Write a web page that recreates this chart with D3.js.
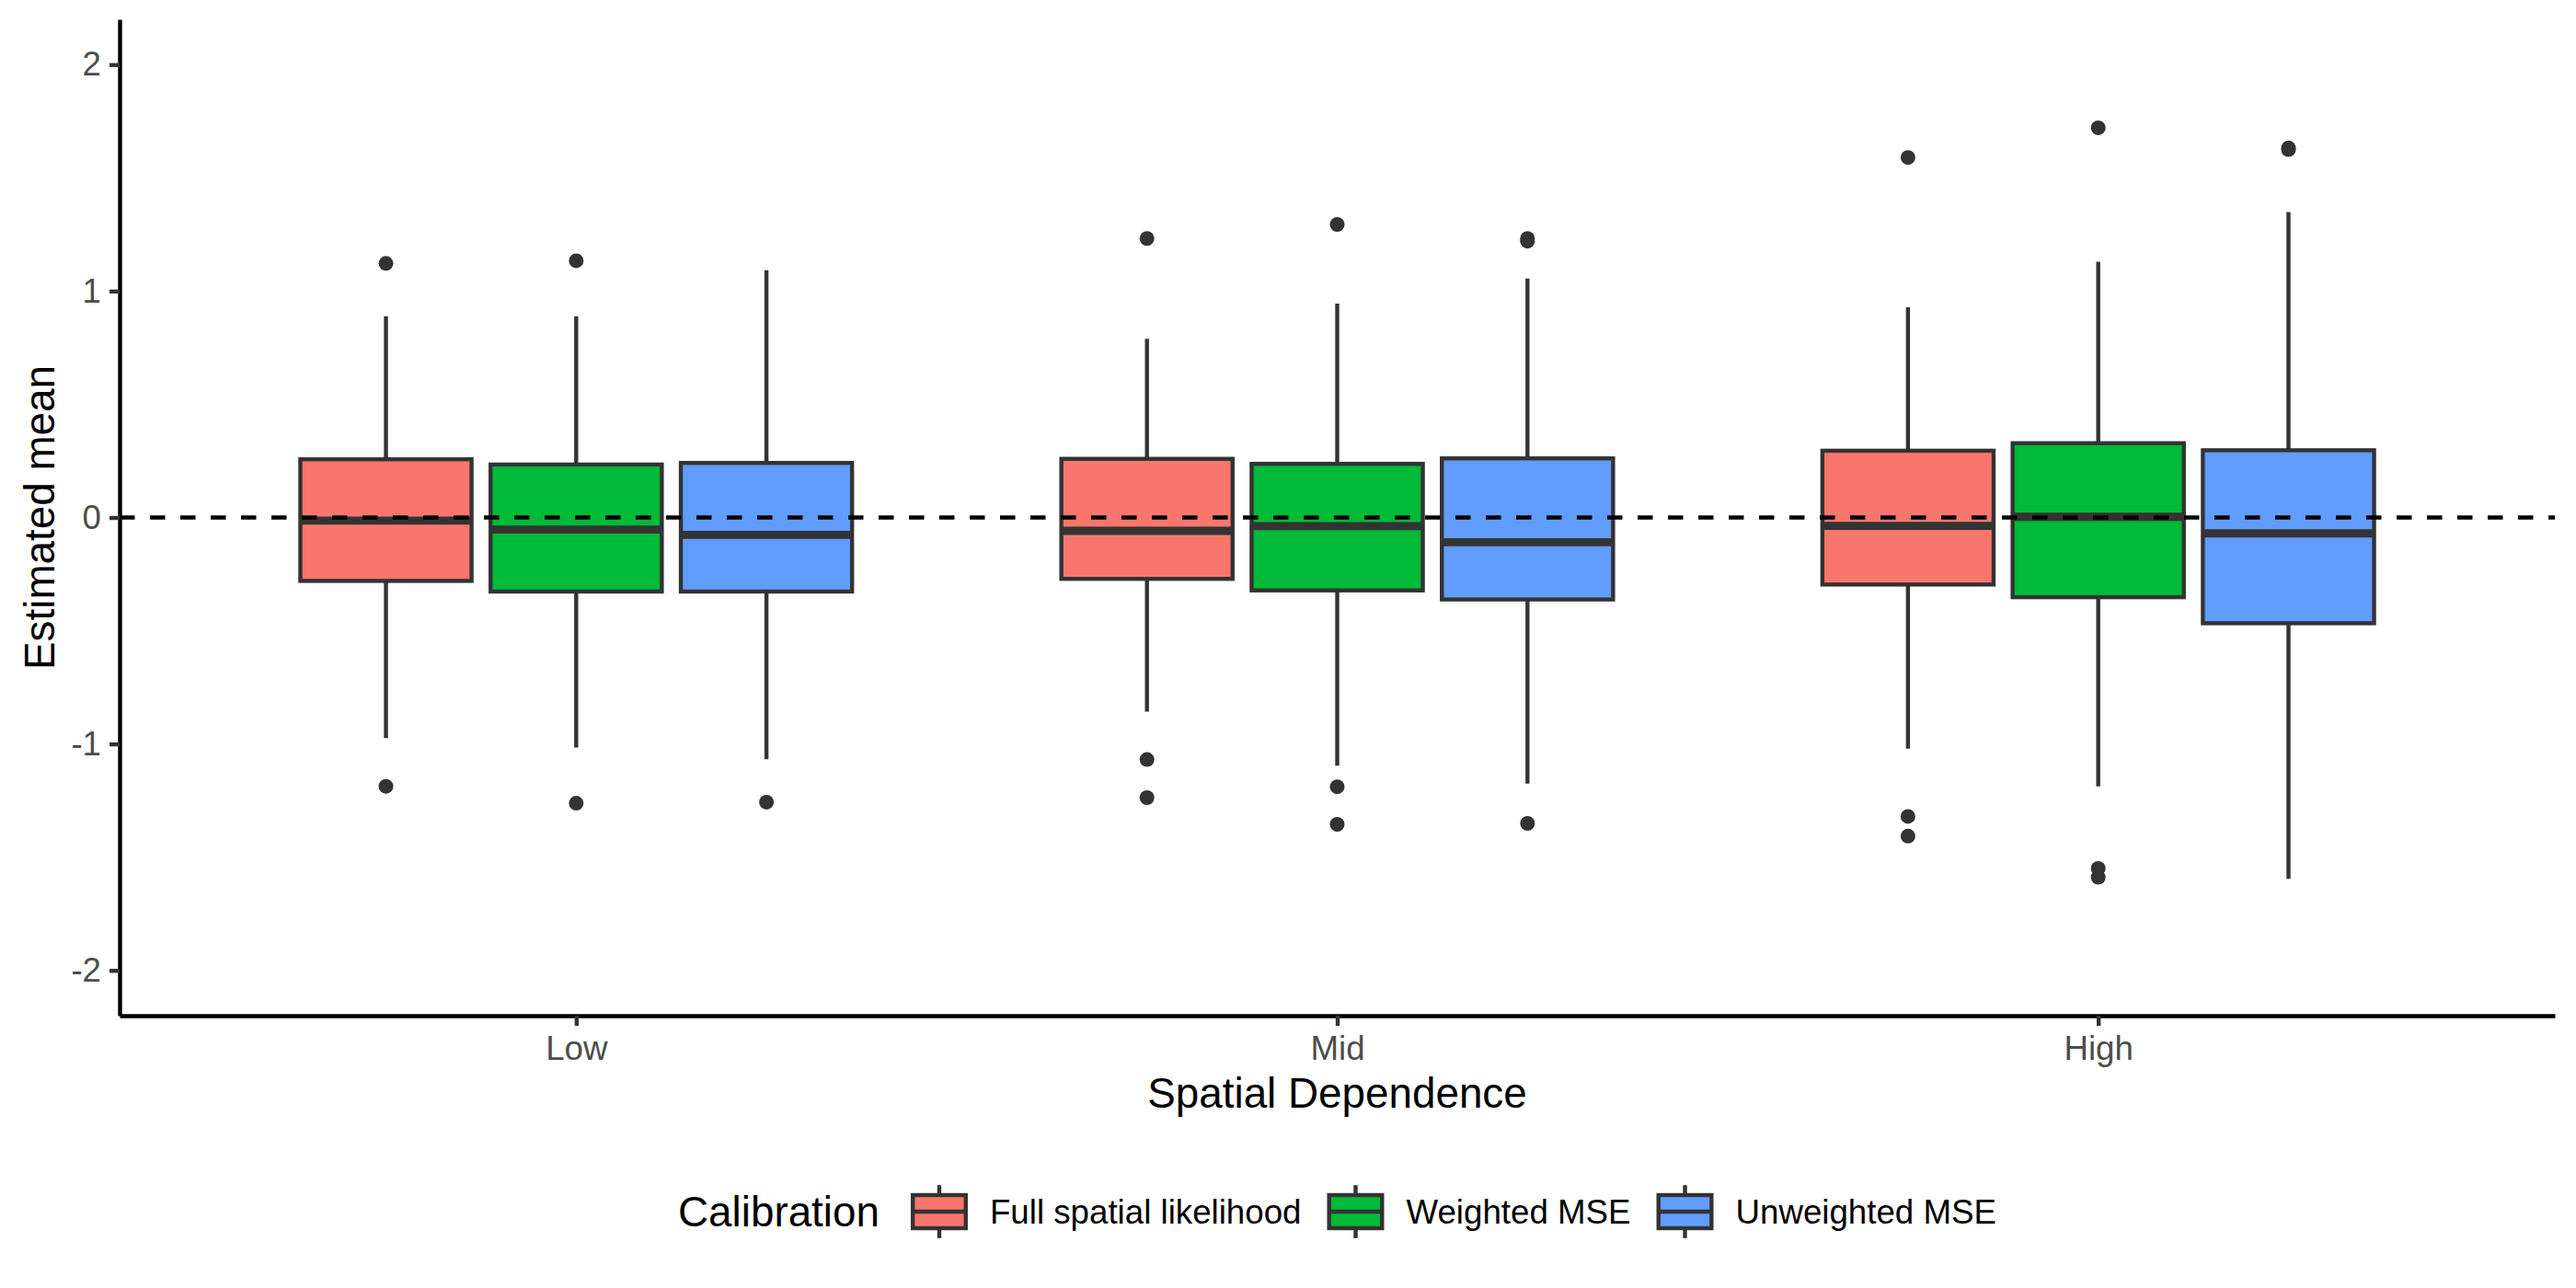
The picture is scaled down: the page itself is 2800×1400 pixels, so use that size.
<!DOCTYPE html>
<html>
<head>
<meta charset="utf-8">
<script src="https://cdn.jsdelivr.net/npm/d3@7"></script>
<style>
  body { margin: 0; background: #fff; }
  svg { display: block; font-family: "Liberation Sans", Arial, sans-serif; }
</style>
</head>
<body>
<svg id="chart"></svg>
<script>
// categories and groups
const dependence = ['Low', 'Mid', 'High'];
const calibration = ['Full spatial likelihood', 'Weighted MSE', 'Unweighted MSE'];
const fills = ['#F8766D', '#00BA38', '#619CFF'];

// box stats, order: Low (FSL, W, U), Mid (FSL, W, U), High (FSL, W, U)
const lowerWhisker = [-0.974, -1.016, -1.068, -0.857, -1.096, -1.175, -1.021, -1.187, -1.596];
const q1           = [-0.280, -0.327, -0.327, -0.271, -0.322, -0.362, -0.296, -0.352, -0.467];
const median       = [-0.014, -0.053, -0.077, -0.059, -0.038, -0.109, -0.037,  0.003, -0.070];
const q3           = [ 0.257,  0.234,  0.241,  0.259,  0.237,  0.261,  0.295,  0.328,  0.297];
const upperWhisker = [ 0.889,  0.889,  1.092,  0.789,  0.945,  1.055,  0.928,  1.129,  1.349];
const outliers = [
  [1.122, -1.187], [1.134, -1.262], [-1.257],
  [1.232, -1.069, -1.237], [1.294, -1.189, -1.355], [1.220, 1.232, -1.351],
  [1.590, -1.320, -1.407], [1.721, -1.550, -1.589], [1.625, 1.632]
];
const yTicks = [-2, -1, 0, 1, 2];

const rows = [];
dependence.forEach((dep, i) => {
  calibration.forEach((cal, j) => {
    const k = i * calibration.length + j;
    rows.push({
      dep, cal, fill: fills[j],
      lo: lowerWhisker[k], q1: q1[k], med: median[k], q3: q3[k], hi: upperWhisker[k],
      out: outliers[k]
    });
  });
});

const W = 2800, H = 1400;
const panel = { left: 130, right: 2777, top: 21, bottom: 1104 };
const lw = 4.4;
const ink = '#333333';

const svg = d3.select('#chart').attr('width', W).attr('height', H);
svg.append('rect').attr('width', W).attr('height', H).attr('fill', '#fff');

const x = d3.scalePoint()
  .domain(dependence)
  .range([panel.left, panel.right])
  .padding(0.6);
const step = x.step();
const xSub = d3.scaleBand()
  .domain(calibration)
  .range([-0.375 * step, 0.375 * step]);
const boxW = xSub.bandwidth() * 0.9;

const y = d3.scaleLinear()
  .domain([-2.2, 2.2])
  .range([panel.bottom, panel.top]);

// boxes
const g = svg.append('g');
const box = g.selectAll('g.box')
  .data(rows)
  .enter()
  .append('g')
  .attr('class', 'box')
  .attr('transform', d => `translate(${x(d.dep) + xSub(d.cal) + xSub.bandwidth() / 2},0)`);

box.append('line')
  .attr('x1', 0).attr('x2', 0)
  .attr('y1', d => y(d.hi)).attr('y2', d => y(d.q3))
  .attr('stroke', ink).attr('stroke-width', lw);

box.append('line')
  .attr('x1', 0).attr('x2', 0)
  .attr('y1', d => y(d.q1)).attr('y2', d => y(d.lo))
  .attr('stroke', ink).attr('stroke-width', lw);

box.append('rect')
  .attr('x', -boxW / 2)
  .attr('width', boxW)
  .attr('y', d => y(d.q3))
  .attr('height', d => y(d.q1) - y(d.q3))
  .attr('fill', d => d.fill)
  .attr('stroke', ink)
  .attr('stroke-width', lw);

box.append('line')
  .attr('x1', -boxW / 2).attr('x2', boxW / 2)
  .attr('y1', d => y(d.med)).attr('y2', d => y(d.med))
  .attr('stroke', ink).attr('stroke-width', lw * 2);

box.selectAll('circle')
  .data(d => d.out)
  .enter()
  .append('circle')
  .attr('cx', 0)
  .attr('cy', v => y(v))
  .attr('r', 8)
  .attr('fill', ink);

// reference line at zero
svg.append('line')
  .attr('x1', panel.left).attr('x2', panel.right)
  .attr('y1', y(0)).attr('y2', y(0))
  .attr('stroke', '#000')
  .attr('stroke-width', lw)
  .attr('stroke-dasharray', '16.5,16.5');

// axes
const yAxis = svg.append('g')
  .attr('transform', `translate(${panel.left},0)`)
  .call(d3.axisLeft(y).tickValues(yTicks).tickFormat(d => String(d))
    .tickSize(11).tickSizeOuter(0).tickPadding(9));

const xAxis = svg.append('g')
  .attr('transform', `translate(0,${panel.bottom})`)
  .call(d3.axisBottom(x).tickSize(11).tickSizeOuter(0).tickPadding(9));

[yAxis, xAxis].forEach(a => {
  a.attr('font-family', null).attr('font-size', null);
  a.select('.domain').attr('stroke', '#000').attr('stroke-width', lw);
  a.selectAll('.tick line').attr('stroke', ink).attr('stroke-width', lw);
  a.selectAll('.tick text')
    .attr('fill', '#4D4D4D')
    .style('font-size', '36.7px');
});
xAxis.selectAll('.tick text').attr('dy', '0.75em');

// axis titles
svg.append('text')
  .attr('x', (panel.left + panel.right) / 2)
  .attr('y', 1204)
  .attr('text-anchor', 'middle')
  .style('font-size', '45.8px')
  .attr('fill', '#000')
  .text('Spatial Dependence');

svg.append('text')
  .attr('transform', `translate(59,${(panel.top + panel.bottom) / 2}) rotate(-90)`)
  .attr('text-anchor', 'middle')
  .style('font-size', '45.8px')
  .attr('fill', '#000')
  .text('Estimated mean');

// legend
const legY = 1317;
const key = 72;
const legend = svg.append('g');
const title = legend.append('text')
  .attr('y', legY)
  .attr('dy', '0.35em')
  .style('font-size', '45.8px')
  .attr('fill', '#000')
  .text('Calibration');

let cx = 0;
title.attr('x', cx);
cx += title.node().getComputedTextLength() + 29;

calibration.forEach((cal, j) => {
  const k = legend.append('g').attr('transform', `translate(${cx},${legY - key / 2})`);
  k.append('line')
    .attr('x1', key / 2).attr('x2', key / 2)
    .attr('y1', key * 0.1).attr('y2', key * 0.9)
    .attr('stroke', ink).attr('stroke-width', lw);
  k.append('rect')
    .attr('x', key * 0.1).attr('width', key * 0.8)
    .attr('y', key * 0.25).attr('height', key * 0.5)
    .attr('fill', fills[j])
    .attr('stroke', ink).attr('stroke-width', lw);
  k.append('line')
    .attr('x1', key * 0.1).attr('x2', key * 0.9)
    .attr('y1', key / 2).attr('y2', key / 2)
    .attr('stroke', ink).attr('stroke-width', lw);
  cx += key + 19;
  const t = legend.append('text')
    .attr('x', cx)
    .attr('y', legY)
    .attr('dy', '0.35em')
    .style('font-size', '36.7px')
    .attr('fill', '#000')
    .text(cal);
  cx += t.node().getComputedTextLength() + (j < calibration.length - 1 ? 23 : 0);
});
legend.attr('transform', `translate(${(panel.left + panel.right) / 2 - cx / 2},0)`);
</script>
</body>
</html>
